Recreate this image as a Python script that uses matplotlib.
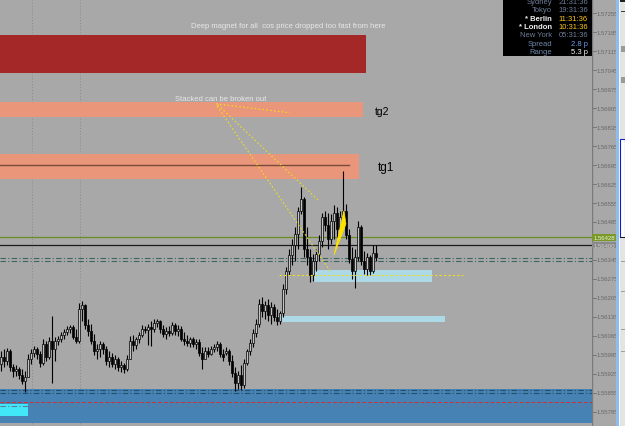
import matplotlib
matplotlib.use("Agg")
import matplotlib.pyplot as plt
from matplotlib.patches import Rectangle, Polygon
import numpy as np

# ---------------- data (EURUSD-like M1 candles) ----------------
highs = [1.56010,1.56017,1.56021,1.56017,1.55961,1.55958,1.55950,1.55943,1.55936,1.55998,
         1.56017,1.56028,1.56024,1.56010,1.56054,1.56046,1.56061,1.56138,1.56061,1.56065,
         1.56080,1.56090,1.56102,1.56105,1.56105,1.56090,1.56186,1.56194,1.56183,1.56127,
         1.56109,1.56072,1.56035,1.56046,1.56043,1.56028,1.56010,1.56002,1.55995,1.55987,
         1.55973,1.55965,1.55995,1.56065,1.56068,1.56061,1.56080,1.56105,1.56102,1.56109,
         1.56120,1.56127,1.56127,1.56124,1.56105,1.56098,1.56102,1.56116,1.56113,1.56105,
         1.56102,1.56080,1.56068,1.56061,1.56061,1.56054,1.56054,1.56024,1.56024,1.56024,
         1.56028,1.56035,1.56046,1.56043,1.56017,1.56024,1.56017,1.55995,1.55950,1.55936,
         1.55958,1.55980,1.56017,1.56054,1.56090,1.56127,1.56201,1.56209,1.56194,1.56201,
         1.56190,1.56183,1.56164,1.56157,1.56257,1.56319,1.56386,1.56423,1.56467,1.56541,
         1.56614,1.56578,1.56467,1.56386,1.56367,1.56386,1.56437,1.56518,1.56526,1.56518,
         1.56515,1.56548,1.56541,1.56526,1.56673,1.56552,1.56459,1.56393,1.56386,1.56489,
         1.56474,1.56378,1.56371,1.56363,1.56400,1.56400]
lows = [1.55936,1.55950,1.55958,1.55936,1.55913,1.55917,1.55906,1.55887,1.55858,1.55913,
        1.55961,1.55987,1.55980,1.55950,1.55958,1.55973,1.55980,1.55891,1.55973,1.56032,
        1.56043,1.56054,1.56068,1.56076,1.56054,1.56039,1.56039,1.56120,1.56090,1.56065,
        1.56035,1.55995,1.55980,1.55987,1.55998,1.55958,1.55950,1.55950,1.55943,1.55936,
        1.55932,1.55928,1.55936,1.55980,1.56010,1.56017,1.56039,1.56061,1.56076,1.56032,
        1.56028,1.56080,1.56098,1.56076,1.56061,1.56054,1.56065,1.56068,1.56068,1.56065,
        1.56046,1.56032,1.56028,1.56024,1.56024,1.56017,1.55991,1.55943,1.55980,1.55987,
        1.55995,1.56006,1.56010,1.55987,1.55973,1.55995,1.55958,1.55913,1.55862,1.55869,
        1.55865,1.55873,1.55958,1.55995,1.56024,1.56061,1.56098,1.56135,1.56127,1.56120,
        1.56109,1.56120,1.56105,1.56109,1.56135,1.56220,1.56290,1.56327,1.56341,1.56386,
        1.56515,1.56356,1.56327,1.56264,1.56268,1.56304,1.56341,1.56393,1.56452,1.56386,
        1.56404,1.56423,1.56430,1.56437,1.56496,1.56423,1.56334,1.56275,1.56242,1.56341,
        1.56327,1.56293,1.56290,1.56290,1.56297,1.56341]
opens = [1.55961,1.55987,1.55973,1.56010,1.55950,1.55936,1.55943,1.55921,1.55899,1.55913,
         1.55980,1.56002,1.56017,1.55998,1.55965,1.56035,1.55987,1.56046,1.56017,1.56046,
         1.56054,1.56068,1.56080,1.56090,1.56098,1.56061,1.56046,1.56164,1.56179,1.56105,
         1.56083,1.56046,1.56010,1.56017,1.56035,1.56017,1.55973,1.55987,1.55961,1.55980,
         1.55950,1.55958,1.55943,1.55980,1.56046,1.56032,1.56054,1.56068,1.56090,1.56087,
         1.56098,1.56090,1.56113,1.56120,1.56090,1.56072,1.56083,1.56076,1.56105,1.56083,
         1.56090,1.56054,1.56046,1.56039,1.56054,1.56035,1.56043,1.56002,1.55980,1.56010,
         1.55998,1.56017,1.56024,1.56035,1.55998,1.56002,1.56010,1.55973,1.55928,1.55891,
         1.55921,1.55884,1.55965,1.56010,1.56039,1.56076,1.56109,1.56183,1.56157,1.56179,
         1.56142,1.56172,1.56135,1.56120,1.56149,1.56238,1.56304,1.56363,1.56400,1.56441,
         1.56526,1.56570,1.56386,1.56356,1.56290,1.56341,1.56367,1.56415,1.56504,1.56474,
         1.56423,1.56489,1.56518,1.56459,1.56504,1.56526,1.56437,1.56349,1.56304,1.56356,
         1.56467,1.56341,1.56312,1.56356,1.56304,1.56371]
closes = [1.55987,1.55973,1.56010,1.55950,1.55936,1.55943,1.55921,1.55899,1.55913,1.55980,
          1.56002,1.56017,1.55998,1.55965,1.56035,1.55987,1.56046,1.56017,1.56046,1.56054,
          1.56068,1.56080,1.56090,1.56098,1.56061,1.56046,1.56164,1.56179,1.56105,1.56083,
          1.56046,1.56010,1.56017,1.56035,1.56017,1.55973,1.55987,1.55961,1.55980,1.55950,
          1.55958,1.55943,1.55980,1.56046,1.56032,1.56054,1.56068,1.56090,1.56087,1.56098,
          1.56090,1.56113,1.56120,1.56090,1.56072,1.56083,1.56076,1.56105,1.56083,1.56090,
          1.56054,1.56046,1.56039,1.56054,1.56035,1.56043,1.56002,1.55980,1.56010,1.55998,
          1.56017,1.56024,1.56035,1.55998,1.55987,1.56010,1.55973,1.55928,1.55891,1.55921,
          1.55884,1.55965,1.56010,1.56039,1.56076,1.56109,1.56183,1.56157,1.56179,1.56142,
          1.56172,1.56135,1.56120,1.56149,1.56238,1.56304,1.56363,1.56400,1.56441,1.56526,
          1.56570,1.56386,1.56356,1.56290,1.56341,1.56367,1.56415,1.56504,1.56474,1.56423,
          1.56489,1.56518,1.56459,1.56504,1.56526,1.56437,1.56349,1.56304,1.56356,1.56467,
          1.56341,1.56312,1.56356,1.56304,1.56371,1.56356]

price_ticks = [1.57255,1.57185,1.57115,1.57045,1.56975,1.56905,1.56835,1.56765,1.56695,
               1.56625,1.56555,1.56485,1.56345,1.56275,1.56205,1.56135,1.56065,1.55995,
               1.55925,1.55855,1.55785]
bid_price = 1.56428
ask_price = 1.56400

# zones: (x_start_bar, x_end_bar, price_low, price_high)
zone_magnet = (-0.33, 121.7, 1.57035, 1.57175)
zone_tg2 = (-0.33, 120.7, 1.56873, 1.56928)
zone_tg1 = (-0.33, 119.3, 1.56644, 1.56736)
tg1_line = (-0.33, 116.0, 1.56696)
zone_blue1 = (104.0, 143.7, 1.56264, 1.56308)
zone_blue2 = (92.0, 148.0, 1.56116, 1.56138)
zone_support = (1.55744, 1.55869)
zone_cyan = (-0.33, 9.0, 1.55769, 1.55814)
dashdot_levels = [1.56352, 1.56341]
support_dashdot = [1.55865, 1.55854, 1.55806]
support_red = 1.55821
yellow_level = (92.7, 154.0, 1.56290)
trend_a = ([71.7, 96.3], [1.56921, 1.56888])
trend_b = ([72.0, 109.7], [1.56913, 1.56304])
trend_c = ([72.3, 105.7], [1.56917, 1.56566])
wedge = ([111.0, 114.3, 115.0], [1.56363, 1.56526, 1.56478])
grid_x = [10.3, 26.3]

sessions = [("Sydney", "21:31:36"), ("Tokyo", "19:31:36"), ("* Berlin", "11:31:36"),
            ("* London", "10:31:36"), ("New York", "05:31:36")]
spread_txt = "2.8 p"
range_txt = "5.3 p"

# ---------------- figure ----------------
W, H = 625, 427
BG = "#A8A8A8"
fig = plt.figure(figsize=(W / 100, H / 100), dpi=100)
fig.patch.set_facecolor(BG)
ax = fig.add_axes([0, 0, 592 / W, 1])
ax.set_facecolor(BG)
ax.set_xlim(-1 / 3, 197)
ax.set_ylim(1.55732, 1.57308)
for s in ax.spines.values():
    s.set_visible(False)
ax.set_xticks([])
ax.set_yticks([])

FONT = ["Liberation Sans", "DejaVu Sans"]

for gx in grid_x:
    ax.axvline(gx, color="#8A8A8A", lw=0.7, ls=(0, (1, 2)), zorder=1)

def zone(x0, x1, y0, y1, color, z=2):
    ax.add_patch(Rectangle((x0, y0), x1 - x0, y1 - y0, facecolor=color, edgecolor="none", zorder=z))

zone(zone_magnet[0], zone_magnet[1], zone_magnet[2], zone_magnet[3], "#A42828")
zone(zone_tg2[0], zone_tg2[1], zone_tg2[2], zone_tg2[3], "#E9967A")
zone(zone_tg1[0], zone_tg1[1], zone_tg1[2], zone_tg1[3], "#E9967A")
ax.plot([tg1_line[0], tg1_line[1]], [tg1_line[2]] * 2, color="#7A4A3A", lw=1.0, zorder=3)
zone(zone_blue1[0], zone_blue1[1], zone_blue1[2], zone_blue1[3], "#ADD8E6")
zone(zone_blue2[0], zone_blue2[1], zone_blue2[2], zone_blue2[3], "#ADD8E6")
zone(-0.33, 197, zone_support[0], zone_support[1], "#4682B4", z=1.5)
zone(zone_cyan[0], zone_cyan[1], zone_cyan[2], zone_cyan[3], "#40E8F8", z=3)

for lv in support_dashdot[:2]:
    ax.axhline(lv, color="#24506E", lw=0.8, ls=(0, (5, 2, 1, 2)), zorder=3)
ax.axhline(support_dashdot[2], color="#5A7E9E", lw=0.8, ls=(0, (5, 2, 1, 2)), zorder=3)
ax.axhline(support_red, color="#D03030", lw=0.7, ls=(0, (4, 2)), zorder=3)

for lv in dashdot_levels:
    ax.axhline(lv, color="#3E6464", lw=0.8, ls=(0, (5, 2, 1, 2)), zorder=2.5)
ax.axhline(bid_price, color="#6B8E23", lw=0.9, zorder=2.6)
ax.axhline(ask_price, color="#1A1A1A", lw=0.9, zorder=2.6)

# candles
idx = np.arange(len(closes))
o = np.array(opens); c = np.array(closes); hi = np.array(highs); lo = np.array(lows)
ax.vlines(idx, lo, hi, color="black", lw=0.8, zorder=4)
bull = c >= o
bw = 0.6
ax.bar(idx[bull], (c - o)[bull], bottom=o[bull], width=bw, color="#C4C4C4",
       edgecolor="black", lw=0.5, zorder=5)
ax.bar(idx[~bull], (o - c)[~bull], bottom=c[~bull], width=bw, color="black",
       edgecolor="black", lw=0.5, zorder=5)

for tx, ty in (trend_a, trend_b, trend_c):
    ax.plot(tx, ty, color="#F0E020", lw=0.8, ls=(0, (1.5, 2)), zorder=6)
ax.plot([yellow_level[0], yellow_level[1]], [yellow_level[2]] * 2, color="#F0E020",
        lw=0.8, ls=(0, (2, 2)), zorder=6)
ax.add_patch(Polygon(list(zip(wedge[0], wedge[1])), closed=True, facecolor="#FFE000",
                     edgecolor="#FFE000", lw=0.5, zorder=6))

ax.text(63.3, 1.57212, "Deep magnet for all  cos price dropped too fast from here",
        color="#E8E8E8", fontsize=5.5, family=FONT, va="center", ha="left", zorder=7)
ax.text(58.0, 1.56939, "Stacked can be broken out", color="#E8E8E8", fontsize=5.5,
        family=FONT, va="center", ha="left", zorder=7)
ax.text(124.7, 1.56895, "tg2", color="black", fontsize=7.5, family=FONT, va="center", ha="left")
ax.text(125.7, 1.56688, "tg1", color="black", fontsize=8.5, family=FONT, va="center", ha="left")

# ---------------- price scale ----------------
sx = fig.add_axes([592 / W, 0, 24 / W, 1], sharey=ax)
sx.set_facecolor(BG)
sx.set_xlim(0, 1)
sx.set_xticks([]); sx.set_yticks([])
for s in sx.spines.values():
    s.set_visible(False)
sx.axvline(0.02, color="#7A7A7A", lw=1.0)
for p in price_ticks:
    sx.plot([0.06, 0.15], [p, p], color="#6E6E6E", lw=0.6)
    sx.text(0.17, p, f"{p:.5f}", fontsize=4.3, color="#686868", family=FONT,
            va="center", ha="left")
sx.text(0.05, bid_price, f"{bid_price:.5f}", fontsize=4.3, color="#E8F0D8", family=FONT,
        va="center", ha="left",
        bbox=dict(boxstyle="square,pad=0.15", fc="#7A9A28", ec="none"))
sx.text(0.05, ask_price, f"{ask_price:.5f}", fontsize=4.3, color="#D0D0D0", family=FONT,
        va="center", ha="left",
        bbox=dict(boxstyle="square,pad=0.15", fc="#8A8A8A", ec="none"))

# ---------------- window edge on the right ----------------
def fpx(x0, y0, w, h, color, z=1, ec="none", lw=0):
    fig.patches.append(Rectangle((x0 / W, 1 - (y0 + h) / H), w / W, h / H, transform=fig.transFigure,
                                 facecolor=color, edgecolor=ec, lw=lw, zorder=z))

fpx(616, 0, 9, 427, "#E4E4E4")
fpx(616, 0, 3, 427, "#8FBCEB")
fpx(619, 0, 1, 427, "#F4F8FF")
fpx(620, 0, 5, 3, "#202020")
fpx(621, 12, 4, 1, "#404040")
fpx(621, 47, 4, 6, "#9A9A9A")
fpx(621, 78, 4, 6, "#9A9A9A")
fpx(620, 140, 5, 98, "#FFFFFF", ec="#1020C0", lw=0.8)
fpx(620, 238, 5, 1, "#202020")
for yy in (262, 292, 330, 352):
    fpx(621, yy, 4, 1, "#A0A0A0")

# ---------------- info box ----------------
fpx(503, 0, 89, 57, "black", z=5)
row0 = 2.5
dy = 8.3
label_x = 552 / W
val_x = 588 / W
for k, (name, t) in enumerate(sessions):
    y = 1 - (row0 + k * dy) / H
    star = name.startswith("*")
    lc = "#F0F0F0" if star else "#6E7D98"
    vc = "#FFC81E" if star else "#6E7D98"
    fig.text(label_x, y, name, color=lc, fontsize=5.5, family=FONT, ha="right", va="center",
             zorder=6, fontweight="bold" if star else "normal")
    fig.text(val_x, y, t, color=vc, fontsize=5.5, family=FONT, ha="right", va="center", zorder=6)
y = 1 - (row0 + 5 * dy) / H
fig.text(label_x, y, "Spread", color="#7088A8", fontsize=5.5, family=FONT, ha="right", va="center", zorder=6)
fig.text(val_x, y, spread_txt, color="#6C9AEE", fontsize=5.5, family=FONT, ha="right", va="center", zorder=6)
y = 1 - (row0 + 6 * dy) / H
fig.text(label_x, y, "Range", color="#7088A8", fontsize=5.5, family=FONT, ha="right", va="center", zorder=6)
fig.text(val_x, y, range_txt, color="#F4F4F4", fontsize=5.5, family=FONT, ha="right", va="center", zorder=6)

fig.savefig("out.png", dpi=100, facecolor=BG)
